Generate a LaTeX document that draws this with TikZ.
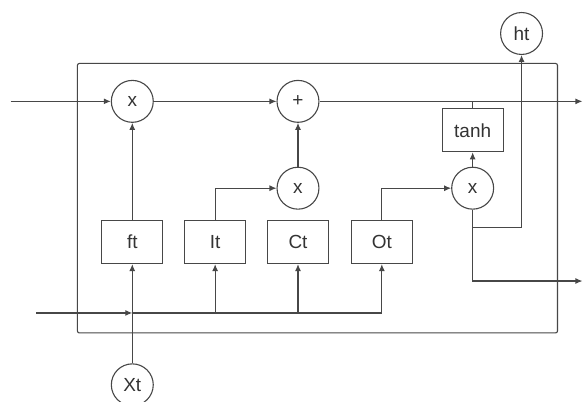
\documentclass[tikz,border=0pt]{standalone}
\usepackage{fontspec}
\setmainfont{Liberation Sans}
\usetikzlibrary{arrows.meta}
\begin{document}
\begin{tikzpicture}[x=1pt,y=-1pt,
  line width=1.1pt,
  every path/.style={draw=black!72},
  lbl/.style={text=black!80,font=\fontsize{19}{21}\selectfont},
  op/.style={circle,draw=black!72,minimum size=42pt,inner sep=0pt,lbl},
  gate/.style={rectangle,draw=black!72,minimum width=61pt,minimum height=43pt,inner sep=0pt,lbl},
  arr/.style={-{Latex[length=7pt,width=6pt]}}]
\useasboundingbox (0,0) rectangle (583,401);
\fill[white] (0,0) rectangle (583,401);
% outer cell
\draw[rounded corners=2pt] (77,63) rectangle (558,333);
% nodes
\node[op] (x1) at (132,101) {x};
\node[op] (plus) at (298,101) {+};
\node[op] (xm) at (298,188) {x};
\node[op] (x3) at (473,188) {x};
\node[gate] (tanh) at (473,130) {tanh};
\node[op] (ht) at (522,33) {ht};
\node[op] (Xt) at (132,385) {Xt};
\node[gate] (ft) at (132,242) {ft};
\node[gate] (It) at (215,242) {It};
\node[gate] (Ct) at (298,242) {Ct};
\node[gate] (Ot) at (382,242) {Ot};
% free ends
\coordinate (inC) at (10,101);
\coordinate (outC) at (583,101);
\coordinate (inH) at (36,313);
\coordinate (jn) at (132,313);
\coordinate (outH) at (583,281);
\coordinate (k) at (473,227);
% top line
\draw[arr] (inC) -- (x1);
\draw[arr] (x1) -- (plus);
\draw[arr] (plus) -- (outC);
\draw[arr] (ft) -- (x1);
\draw[arr] (xm) -- (plus);
\draw (tanh.north) -- (tanh.north |- plus);
\draw[arr] (x3) -- (tanh);
\draw[arr] (It.north) |- (xm);
\draw[arr] (Ot.north) |- (x3);
% bottom input
\draw[arr] (Xt) -- (ft);
\draw[arr] (inH) -- (jn);
\draw (jn) -- (Ot.south |- jn);
\draw[arr] (It.south |- jn) -- (It);
\draw[arr] (Ct.south |- jn) -- (Ct);
\draw[arr] (Ot.south |- jn) -- (Ot);
% outputs
\draw[arr] (x3.south) |- (outH);
\draw[arr] (k) -| (ht);
\end{tikzpicture}
\end{document}
